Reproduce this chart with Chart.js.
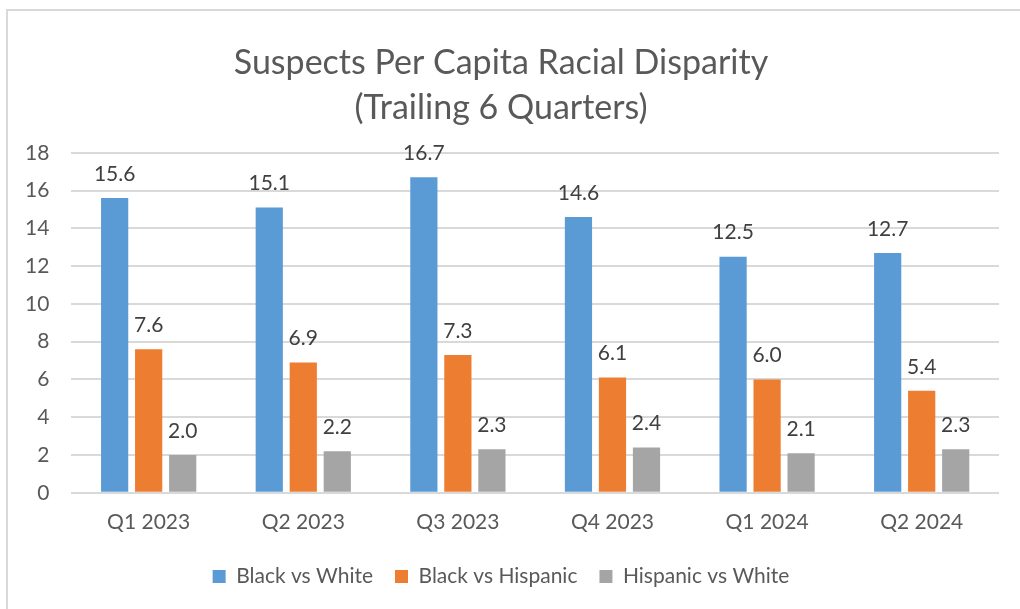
<!DOCTYPE html>
<html>
<head>
<meta charset="utf-8">
<script src="https://cdn.jsdelivr.net/npm/chart.js@4"></script>
<style>
  html, body { margin: 0; padding: 0; background: #fff; }
  #wrap { position: relative; width: 1020px; height: 609px; overflow: hidden; }
  #frame { position: absolute; left: 6px; top: 9px; width: 1100px; height: 700px; border: 2px solid #d9d9d9; box-sizing: border-box; }
  canvas { position: absolute; left: 0; top: 0; }
</style>
</head>
<body>
<div id="wrap">
  <div id="frame"></div>
  <canvas id="chart" width="1020" height="609"></canvas>
</div>
<script>
// categories and series
const quarters = ['Q1 2023', 'Q2 2023', 'Q3 2023', 'Q4 2023', 'Q1 2024', 'Q2 2024'];
const blackVsWhite = [15.6, 15.1, 16.7, 14.6, 12.5, 12.7];
const blackVsHispanic = [7.6, 6.9, 7.3, 6.1, 6.0, 5.4];
const hispanicVsWhite = [2.0, 2.2, 2.3, 2.4, 2.1, 2.3];
const yTicks = [0, 2, 4, 6, 8, 10, 12, 14, 16, 18];

const FONT = 'Lato, "Open Sans", sans-serif';

// draw values above each bar
const valueLabels = {
    id: 'valueLabels',
    afterDatasetsDraw(chart) {
        const ctx = chart.ctx;
        ctx.save();
        ctx.font = '21px ' + FONT;
        ctx.fillStyle = '#404040';
        ctx.textAlign = 'center';
        ctx.textBaseline = 'middle';
        chart.data.datasets.forEach((ds, i) => {
            chart.getDatasetMeta(i).data.forEach((bar, j) => {
                ctx.fillText(ds.data[j].toFixed(1), bar.x, bar.y - 24);
            });
        });
        ctx.restore();
    }
};

const ctx = document.getElementById('chart').getContext('2d');
new Chart(ctx, {
    type: 'bar',
    data: {
        labels: quarters,
        datasets: [
            { label: 'Black vs White', data: blackVsWhite, backgroundColor: '#5B9BD5' },
            { label: 'Black vs Hispanic', data: blackVsHispanic, backgroundColor: '#ED7D31' },
            { label: 'Hispanic vs White', data: hispanicVsWhite, backgroundColor: '#A5A5A5' }
        ]
    },
    options: {
        responsive: false,
        animation: false,
        layout: { padding: { left: 3, right: 21, top: 41, bottom: 12 } },
        datasets: { bar: { categoryPercentage: 0.66, barPercentage: 0.8 } },
        scales: {
            x: {
                grid: { display: false },
                border: { display: false },
                ticks: { color: '#595959', font: { family: FONT, size: 21 }, padding: 9 }
            },
            y: {
                min: 0,
                max: 18,
                afterBuildTicks: axis => { axis.ticks = yTicks.map(v => ({ value: v })); },
                grid: { color: '#d9d9d9', lineWidth: 2, drawTicks: false },
                border: { display: false },
                ticks: { color: '#595959', font: { family: FONT, size: 21 }, padding: 22 }
            }
        },
        plugins: {
            title: {
                display: true,
                text: ['Suspects Per Capita Racial Disparity', '(Trailing 6 Quarters)'],
                color: '#595959',
                font: { family: FONT, size: 34, weight: 'normal', lineHeight: 1.32 },
                padding: { top: 0, bottom: 22 }
            },
            legend: {
                position: 'bottom',
                labels: {
                    color: '#595959',
                    font: { family: FONT, size: 21 },
                    boxWidth: 13,
                    boxHeight: 13,
                    padding: 22
                }
            },
            tooltip: { enabled: false }
        }
    },
    plugins: [valueLabels]
});
</script>
</body>
</html>
